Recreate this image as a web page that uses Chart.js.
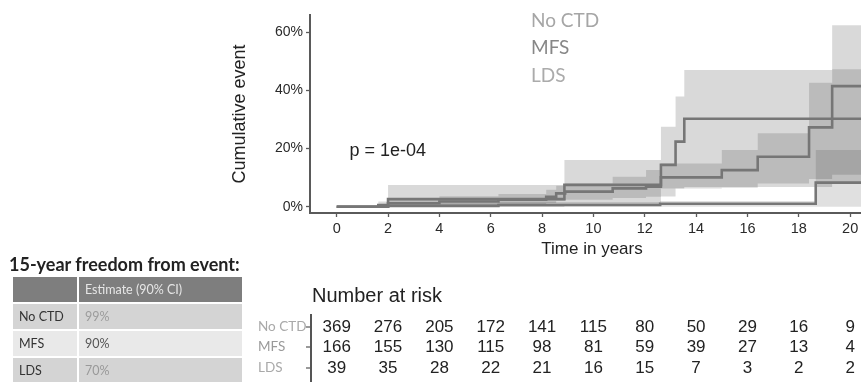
<!DOCTYPE html>
<html><head><meta charset="utf-8">
<script src="https://cdn.jsdelivr.net/npm/chart.js@4.4.1/dist/chart.umd.min.js"></script>
<style>
html,body{margin:0;padding:0;background:#fff;overflow:hidden;width:861px;height:382px;}
#wrap{position:relative;width:861px;height:382px;overflow:hidden;}
#c{position:absolute;left:0;top:0;}
.cell{position:absolute;box-sizing:border-box;padding-left:6px;font-family:Lato,"Noto Sans",sans-serif;font-size:12.5px;line-height:25px;height:25px;white-space:nowrap;}
#ttl{position:absolute;left:9px;top:253px;font-family:Lato,"Noto Sans",sans-serif;font-weight:bold;font-size:18px;color:#222;white-space:nowrap;}
</style></head>
<body><div id="wrap">
<canvas id="c" width="880" height="382"></canvas>
<div id="ttl">15-year freedom from event:</div>
<div id="tbl"></div>
</div>
<script>
// ---- data ----
const groups = ['No CTD', 'MFS', 'LDS'];
const xTicks = [0, 2, 4, 6, 8, 10, 12, 14, 16, 18, 20];
const yTicks = [0, 20, 40, 60];

const noctdTime  = [0, 2.0, 6.3, 12.6, 18.66, 21.5];
const noctdEst   = [0, 0.3, 0.6, 1.0, 8.3, 8.3];
const noctdLower = [0, 0, 0, 0, 0, 0];
const noctdUpper = [0, 1.2, 1.6, 2.0, 19.5, 19.5];

const mfsTime  = [0, 1.62, 2.0, 4.0, 6.3, 8.16, 8.55, 8.9, 10.75, 12.05, 12.63, 15.0, 16.4, 18.4, 19.3, 21.5];
const mfsEst   = [0, 0.6, 1.2, 1.8, 2.4, 3.4, 4.6, 5.2, 6.3, 6.9, 10.1, 12.6, 17.2, 27.3, 41.5, 41.5];
const mfsLower = [0, 0, 0.2, 0.5, 0.8, 1.3, 2.0, 2.4, 3.0, 3.4, 6.3, 6.5, 8.0, 9.5, 11.0, 11.0];
const mfsUpper = [0, 1.8, 2.8, 3.6, 4.4, 5.8, 7.2, 8.0, 10.3, 12.6, 14.9, 19.5, 25.3, 42.7, 47.3, 47.3];

const ldsTime  = [0, 2.0, 8.87, 12.63, 13.2, 13.54, 19.3, 21.5];
const ldsEst   = [0, 2.6, 7.5, 14.4, 22.4, 30.3, 30.3, 30.3];
const ldsLower = [0, 0, 0.8, 3.5, 6.3, 6.8, 8.5, 8.5];
const ldsUpper = [0, 7.5, 16.1, 27.5, 37.9, 47.1, 62.5, 62.5];

const riskNoctd = [369, 276, 205, 172, 141, 115, 80, 50, 29, 16, 9];
const riskMfs   = [166, 155, 130, 115, 98, 81, 59, 39, 27, 13, 4];
const riskLds   = [39, 35, 28, 22, 21, 16, 15, 7, 3, 2, 2];

const freedom15 = ['99%', '90%', '70%'];
const pValue = 'p = 1e-04';

// ---- build ----
const pts = (t, v) => t.map((x, i) => ({x: x, y: v[i]}));
const lineCol = '#767676';
function lineDs(t, v){ return {type:'line', data: pts(t,v), borderColor: lineCol, borderWidth: 2.6, pointRadius: 0, stepped: 'before', fill: false, order: 0}; }
function upperDs(t, v, col){ return {type:'line', data: pts(t,v), borderWidth: 0, borderColor:'rgba(0,0,0,0)', pointRadius: 0, stepped: 'before', fill: '+1', backgroundColor: col, order: 1}; }
function lowerDs(t, v){ return {type:'line', data: pts(t,v), borderWidth: 0, borderColor:'rgba(0,0,0,0)', pointRadius: 0, stepped: 'before', fill: false, order: 1}; }

const datasets = [
  lineDs(noctdTime, noctdEst), lineDs(mfsTime, mfsEst), lineDs(ldsTime, ldsEst),
  upperDs(ldsTime, ldsUpper, 'rgba(0,0,0,0.15)'), lowerDs(ldsTime, ldsLower),
  upperDs(mfsTime, mfsUpper, 'rgba(0,0,0,0.14)'), lowerDs(mfsTime, mfsLower),
  upperDs(noctdTime, noctdUpper, 'rgba(0,0,0,0.12)'), lowerDs(noctdTime, noctdLower)
];

const legendCols = ['#a6a6a6', '#878787', '#ababab'];
const riskLabelCols = ['#a9a9a9', '#9a9a9a', '#a9a9a9'];

const textPlugin = {
  id: 'texts',
  afterDraw(chart){
    const {ctx, chartArea: ca, scales: {x, y}} = chart;
    ctx.save();
    ctx.fillStyle = '#222';
    ctx.font = '18px "Liberation Sans", Arial, sans-serif';
    ctx.textAlign = 'center'; ctx.textBaseline = 'middle';
    ctx.save();
    ctx.translate(240, (ca.top + ca.bottom) / 2);
    ctx.rotate(-Math.PI / 2);
    ctx.fillText('Cumulative event', 0, 0);
    ctx.restore();
    ctx.font = '17px "Liberation Sans", Arial, sans-serif';
    ctx.fillText('Time in years', (ca.left + ca.right) / 2, 249);
    ctx.textAlign = 'left';
    ctx.font = '18px "Liberation Sans", Arial, sans-serif';
    ctx.fillText(pValue, x.getPixelForValue(0.5), y.getPixelForValue(19));
    ctx.font = '19px Lato, "Noto Sans", sans-serif';
    const ly = [21, 48, 76];
    groups.forEach((g, i) => { ctx.fillStyle = legendCols[i]; ctx.fillText(g, 531, ly[i]); });
    ctx.fillStyle = '#222';
    ctx.font = '20px "Liberation Sans", Arial, sans-serif';
    ctx.fillText('Number at risk', 312, 296);
    const ry = [327, 347, 368];
    const risks = [riskNoctd, riskMfs, riskLds];
    ctx.font = '13.5px Lato, "Noto Sans", sans-serif';
    groups.forEach((g, i) => { ctx.fillStyle = riskLabelCols[i]; ctx.fillText(g, 258, ry[i]); });
    ctx.strokeStyle = '#555'; ctx.lineWidth = 2;
    ctx.beginPath(); ctx.moveTo(311, 314); ctx.lineTo(311, 383); ctx.stroke();
    ctx.lineWidth = 1.2;
    ry.forEach(yy => { ctx.beginPath(); ctx.moveTo(306, yy); ctx.lineTo(311, yy); ctx.stroke(); });
    ctx.fillStyle = '#222'; ctx.textAlign = 'center';
    ctx.font = '17px "Liberation Sans", Arial, sans-serif';
    risks.forEach((r, i) => r.forEach((v, j) => ctx.fillText(String(v), x.getPixelForValue(xTicks[j]), ry[i])));
    ctx.restore();
  }
};

new Chart(document.getElementById('c'), {
  type: 'line',
  data: {datasets},
  plugins: [textPlugin],
  options: {
    responsive: false, animation: false, devicePixelRatio: 1,
    layout: {padding: {left: 0, top: 15, right: 6, bottom: 0}},
    plugins: {legend: {display: false}, tooltip: {enabled: false}},
    scales: {
      x: {
        type: 'linear', min: -1.04, max: 20.93,
        afterBuildTicks: s => { s.ticks = xTicks.map(v => ({value: v})); },
        afterFit: s => { s.height = 169; },
        border: {color: '#5a5a5a', width: 2},
        grid: {drawOnChartArea: false, drawTicks: true, tickLength: 4, tickColor: '#5a5a5a', tickWidth: 1.3},
        ticks: {color: '#2a2a2a', padding: 3, font: {family: '"Liberation Sans", Arial, sans-serif', size: 14.5}, maxRotation: 0}
      },
      y: {
        type: 'linear', min: -2.17, max: 66,
        afterBuildTicks: s => { s.ticks = yTicks.map(v => ({value: v})); },
        afterFit: s => { s.width = 310; },
        border: {color: '#5a5a5a', width: 2},
        grid: {drawOnChartArea: false, drawTicks: true, tickLength: 4, tickColor: '#5a5a5a', tickWidth: 1.3},
        ticks: {color: '#2a2a2a', padding: 3, font: {family: '"Liberation Sans", Arial, sans-serif', size: 14}, callback: v => v + '%'}
      }
    }
  }
});

const tbl = document.getElementById('tbl');
function cell(left, top, width, bg, color, text){
  const d = document.createElement('div');
  d.className = 'cell';
  d.style.left = left + 'px'; d.style.top = top + 'px'; d.style.width = width + 'px';
  d.style.background = bg; d.style.color = color; d.textContent = text;
  tbl.appendChild(d);
}
cell(13, 277, 64, '#7e7e7e', '#e6e6e6', '');
cell(79, 277, 163, '#7e7e7e', '#e6e6e6', 'Estimate (90% CI)');
const rowTops = [304, 331, 358];
const rowBgs = ['#d4d4d4', '#e9e9e9', '#d4d4d4'];
const valCols = ['#9c9c9c', '#555555', '#999999'];
groups.forEach((g, i) => {
  cell(13, rowTops[i], 64, rowBgs[i], '#333', g);
  cell(79, rowTops[i], 163, rowBgs[i], valCols[i], freedom15[i]);
});
</script>
</body></html>
